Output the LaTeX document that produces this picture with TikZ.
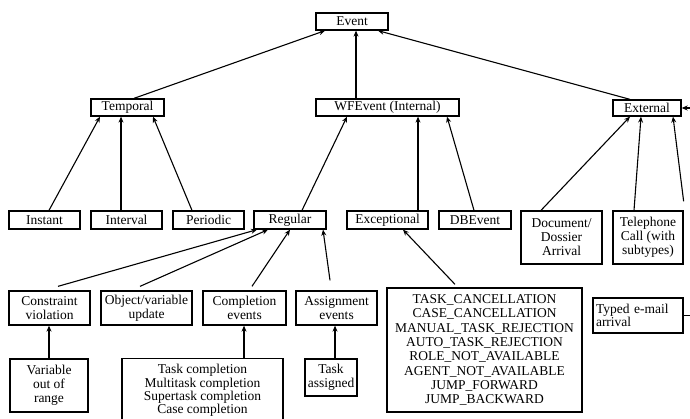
\documentclass[tikz,border=0pt]{standalone}
\usepackage{fontspec}
\setmainfont{Liberation Serif}
\usetikzlibrary{arrows.meta}
\begin{document}
\begin{tikzpicture}[x=1pt,y=-1pt,
  box/.style={draw, line width=1.3pt, inner sep=1pt, align=center,
    font=\fontsize{13.5}{14}\selectfont},
  arr/.style={line width=1.1pt, -{Stealth[length=6pt,width=5pt]}}]
\useasboundingbox (0,0) rectangle (690,419);
\clip (0,0) rectangle (690,419);
\fill[white] (0,0) rectangle (690,419);

% root and first level
\node[box, minimum width=72pt, minimum height=17pt] (event) at (352,21.5) {Event};
\node[box, minimum width=73pt, minimum height=17pt] (temporal) at (127.5,107.5) {Temporal};
\node[box, minimum width=143pt, minimum height=17pt] (wfevent) at (387.5,107.5) {WFEvent (Internal)};
\node[box, minimum width=68pt, minimum height=16pt] (external) at (647,108) {External};

% second level
\node[box, minimum width=71pt, minimum height=18pt] (instant) at (44.5,220) {Instant};
\node[box, minimum width=71pt, minimum height=18pt] (interval) at (126.5,220) {Interval};
\node[box, minimum width=71pt, minimum height=18pt] (periodic) at (208.5,220) {Periodic};
\node[box, minimum width=72pt, minimum height=18pt] (regular) at (290,220) {Regular};
\node[box, minimum width=81pt, minimum height=18pt] (exceptional) at (387.5,220) {Exceptional};
\node[box, minimum width=72pt, minimum height=18pt] (dbevent) at (475,220) {DBEvent};
\node[box, minimum width=81pt, minimum height=53pt] (document) at (561.5,237.5) {Document/\\Dossier\\Arrival};
\node[box, minimum width=70pt, minimum height=53pt] (telephone) at (648,237.5) {Telephone\\Call (with\\subtypes)};

% third level
\node[box, minimum width=81pt, minimum height=34pt] (constraint) at (49.5,308) {Constraint\\violation};
\node[box, minimum width=91pt, minimum height=34pt] (object) at (146.5,308) {Object/variable\\update};
\node[box, minimum width=83pt, minimum height=34pt] (completion) at (244.5,308) {Completion\\events};
\node[box, minimum width=81pt, minimum height=34pt] (assignment) at (336.5,308) {Assignment\\events};
\node[box, minimum width=195pt, minimum height=124pt, font=\fontsize{13.5}{14.3}\selectfont] (cancel) at (484.5,350)
  {TASK\_CANCELLATION\\CASE\_CANCELLATION\\MANUAL\_TASK\_REJECTION\\AUTO\_TASK\_REJECTION\\ROLE\_NOT\_AVAILABLE\\AGENT\_NOT\_AVAILABLE\\JUMP\_FORWARD\\JUMP\_BACKWARD};
\node[box, minimum width=90pt, minimum height=35pt, text width=84pt, align=left,
  font=\fontsize{13.5}{10}\selectfont] (typed) at (638,315.5) {Typed e-mail\\arrival};

% leaves
\node[box, minimum width=78pt, minimum height=53pt] (variable) at (49,385.5) {Variable\\out of\\range};
\node[box, minimum width=161pt, minimum height=64pt, font=\fontsize{13.5}{13.3}\selectfont] (taskcompl) at (202.5,390.5)
  {Task completion\\Multitask completion\\Supertask completion\\Case completion};
\node[box, minimum width=52pt, minimum height=37pt] (taskassigned) at (331,377.5) {Task\\assigned};

% specialisation links
\draw[arr] ([xshift=6.5pt]temporal.north) -- ([xshift=-27pt]event.south);
\draw[arr] ([xshift=-31.5pt]wfevent.north) -- ([xshift=4pt]event.south);
\draw[arr] ([xshift=-17pt]external.north) -- ([xshift=26pt]event.south);

\draw[arr] ([xshift=4.5pt]instant.north) -- ([xshift=-27.5pt]temporal.south);
\draw[arr] ([xshift=-5.5pt]interval.north) -- ([xshift=-6.5pt]temporal.south);
\draw[arr] ([xshift=-16.5pt]periodic.north) -- ([xshift=25.5pt]temporal.south);

\draw[arr] ([xshift=12pt]regular.north) -- ([xshift=-40.5pt]wfevent.south);
\draw[arr] ([xshift=30.5pt]exceptional.north) -- ([xshift=30.5pt]wfevent.south);
\draw[arr] ([xshift=-1pt]dbevent.north) -- ([xshift=59.5pt]wfevent.south);

\draw[arr] ([xshift=-20.5pt]document.north) -- ([xshift=-17pt]external.south);
\draw[arr] ([xshift=-14pt]telephone.north) -- ([xshift=-6pt]external.south);
\draw[arr] ([yshift=9pt]telephone.north east) -- ([xshift=26pt]external.south);

\draw[arr] ([xshift=8.5pt,yshift=4pt]constraint.north) -- ([xshift=-33pt]regular.south);
\draw[arr] ([xshift=-6.5pt,yshift=4pt]object.north) -- ([xshift=-22pt]regular.south);
\draw[arr] ([xshift=7.5pt,yshift=4pt]completion.north) -- (regular.south);
\draw[arr] ([xshift=-6.5pt,yshift=10pt]assignment.north) -- ([xshift=33pt]regular.south);

\draw[arr] (variable.north) -- ([xshift=-0.5pt]constraint.south);
\draw[arr] ([xshift=41.5pt]taskcompl.north) -- ([xshift=-0.5pt]completion.south);
\draw[arr] ([xshift=4pt]taskassigned.north) -- ([xshift=-1.5pt]assignment.south);
\draw[arr] ([xshift=-29.5pt,yshift=3pt]cancel.north) -- ([xshift=15.5pt]exceptional.south);

\draw[arr] (typed.east) -- ++(20,0) |- (external.east);
\end{tikzpicture}
\end{document}
